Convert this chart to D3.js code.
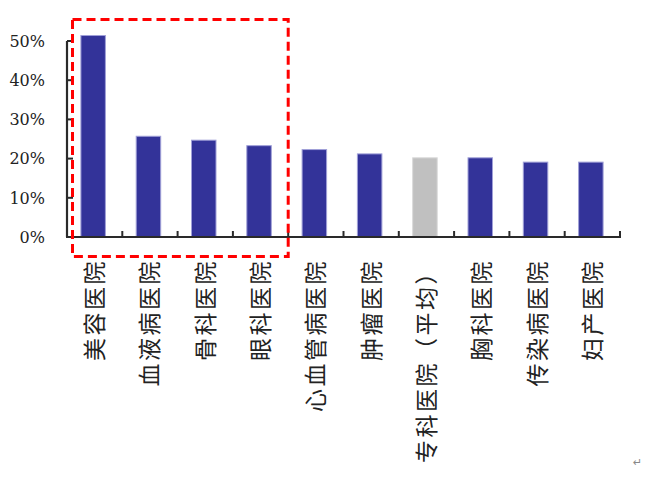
<!DOCTYPE html>
<html><head><meta charset="utf-8">
<script src="https://cdn.jsdelivr.net/npm/d3@7"></script>
<style>body{margin:0;background:#fff;}</style>
</head><body>
<script>
const categories = ["美容医院","血液病医院","骨科医院","眼科医院","心血管病医院","肿瘤医院","专科医院（平均）","胸科医院","传染病医院","妇产医院"];
const values = [51.4, 25.7, 24.7, 23.3, 22.3, 21.2, 20.2, 20.2, 19.1, 19.1];
const highlight = ["专科医院（平均）"];
const yTicks = [0, 10, 20, 30, 40, 50];

const W = 655, H = 483;
const svg = d3.select("body").append("svg").attr("width", W).attr("height", H);

const x = d3.scaleBand().domain(categories).range([67, 620]).padding(0);
const y = d3.scaleLinear().domain([0, 50]).range([237, 41]);
const bw = 24.5;

// bars
svg.selectAll("rect.bar").data(categories).enter().append("rect")
  .attr("class","bar")
  .attr("x", d => x(d) + (x.bandwidth() - bw)/2 - 1.5)
  .attr("y", (d,i) => y(values[i]))
  .attr("width", bw)
  .attr("height", (d,i) => y(0) - y(values[i]))
  .attr("fill", d => highlight.includes(d) ? "#c0c0c0" : "#333399")
  .attr("stroke", d => highlight.includes(d) ? "#d8d8d8" : "#a0a0d8")
  .attr("stroke-width", 1);

// y axis
const axisColor = "#2a2a2a";
svg.append("line").attr("x1", 67).attr("x2", 67).attr("y1", y(50)).attr("y2", y(0))
  .attr("stroke", axisColor).attr("stroke-width", 2.2);
svg.selectAll("line.yt").data(yTicks).enter().append("line")
  .attr("x1", 67).attr("x2", 73).attr("y1", d => y(d)).attr("y2", d => y(d))
  .attr("stroke", axisColor).attr("stroke-width", 2);
svg.selectAll("text.yl").data(yTicks).enter().append("text")
  .attr("x", 45).attr("y", d => y(d)).attr("dy", "0.36em")
  .attr("text-anchor", "end")
  .style("font-family", "'DejaVu Serif', serif").style("font-size", "16px").attr("fill", "#222")
  .text(d => d + "%");

// x axis
svg.append("line").attr("x1", 66).attr("x2", 621).attr("y1", y(0)).attr("y2", y(0))
  .attr("stroke", axisColor).attr("stroke-width", 2.2);
const bounds = categories.slice(1).map(d => x(d)).concat([x(categories[categories.length-1]) + x.bandwidth()]);
svg.selectAll("line.xt").data(bounds).enter().append("line")
  .attr("x1", d => d).attr("x2", d => d).attr("y1", y(0)).attr("y2", y(0) - 6)
  .attr("stroke", axisColor).attr("stroke-width", 2);

// x labels (rotated)
svg.selectAll("text.xl").data(categories).enter().append("text")
  .attr("transform", d => `translate(${x(d) + x.bandwidth()/2 - 1.5},259) rotate(-90)`)
  .attr("text-anchor", "end")
  .attr("dominant-baseline", "central")
  .style("font-family", "'Noto Sans CJK SC', sans-serif").style("font-size", "23px")
  .style("letter-spacing", "2.5px")
  .attr("fill", "#222")
  .text(d => d);

// red dashed highlight box
svg.append("rect").attr("x", x(categories[0]) + 5.5).attr("y", 19.5)
  .attr("width", x(categories[4]) - x(categories[0]) - 5.5).attr("height", 237)
  .attr("fill", "none").attr("stroke", "#ff0000").attr("stroke-width", 3)
  .attr("stroke-dasharray", "9,5");

// return mark
svg.append("text").attr("x", 633).attr("y", 466).style("font-size", "11px")
  .style("font-family", "'DejaVu Sans', sans-serif").attr("fill", "#888").text("↵");
</script>
</body></html>
